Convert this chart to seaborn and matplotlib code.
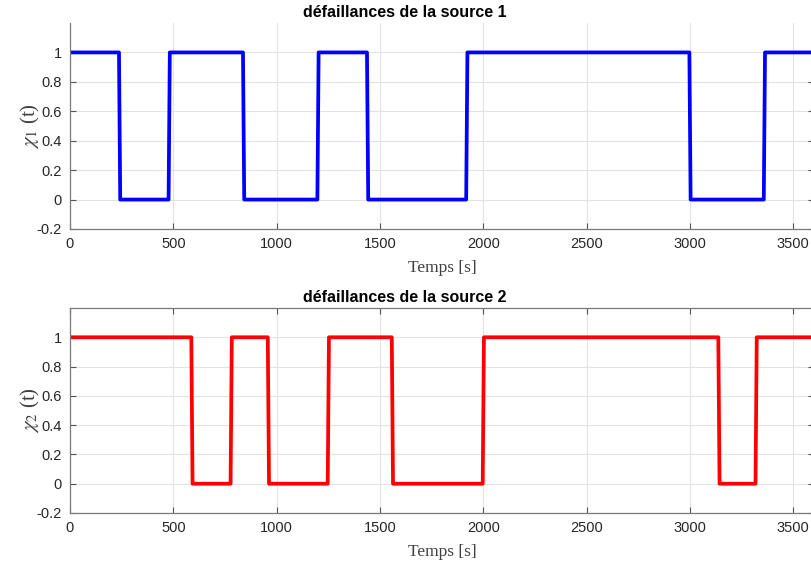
import numpy as np
import pandas as pd
import matplotlib
matplotlib.use("Agg")
import matplotlib.pyplot as plt
import seaborn as sns

# ---- data ----
switch_times_1 = [240, 480, 840, 1200, 1440, 1920, 3000, 3360]
switch_times_2 = [590, 780, 960, 1250, 1560, 2000, 3140, 3320]
initial_state = 1
t_end = 3600
titles = ["défaillances de la source 1", "défaillances de la source 2"]
ylabels = [r"$\chi_1$ (t)", r"$\chi_2$ (t)"]
xlabel = "Temps [s]"
xticks = [0, 500, 1000, 1500, 2000, 2500, 3000, 3500]
yticks = [-0.2, 0, 0.2, 0.4, 0.6, 0.8, 1]
ytick_labels = ["-0.2", "0", "0.2", "0.4", "0.6", "0.8", "1"]
colors = ["#0000ff", "#ff0000"]

RAMP = 3.0


def build(switches):
    t = [0.0]
    v = [initial_state]
    cur = initial_state
    for s in switches:
        t.append(s - RAMP); v.append(cur)
        cur = 1 - cur
        t.append(s + RAMP); v.append(cur)
    t.append(t_end); v.append(cur)
    return pd.DataFrame({"t": t, "x": v})


sns.set_theme(style="whitegrid")
plt.rcParams["font.family"] = ["Liberation Sans", "DejaVu Sans"]
plt.rcParams["mathtext.fontset"] = "stix"

fig = plt.figure(figsize=(8.11, 5.65), dpi=100)
W, H = 811.0, 565.0
ax_pos = [
    (70 / W, 1 - 229 / H, (814 - 70) / W, (229 - 23) / H),
    (70 / W, 1 - 513 / H, (814 - 70) / W, (513 - 308) / H),
]

for i, (sw, col) in enumerate([(switch_times_1, colors[0]), (switch_times_2, colors[1])]):
    ax = fig.add_axes(ax_pos[i])
    df = build(sw)
    sns.lineplot(data=df, x="t", y="x", ax=ax, color=col, linewidth=2.7,
                 estimator=None, sort=False)
    ax.set_xlim(0, t_end)
    ax.set_ylim(-0.2, 1.2)
    ax.set_xticks(xticks)
    ax.set_xticklabels([str(v) for v in xticks])
    ax.set_yticks(yticks)
    ax.set_yticklabels(ytick_labels)
    ax.grid(True, color="#e3e3e3", linewidth=0.8)
    ax.set_facecolor("white")
    for name, sp in ax.spines.items():
        sp.set_color("#7a7a7a")
        sp.set_linewidth(0.9)
    if i == 0:
        ax.spines["top"].set_visible(False)
    ax.tick_params(axis="both", direction="in", length=4, width=0.8, color="#555555",
                   labelsize=10.5, labelcolor="#262626", bottom=True, left=True,
                   right=True, top=(i == 1))
    ax.tick_params(axis="x", pad=6)
    ax.tick_params(axis="y", pad=6)
    ax.set_xlabel(xlabel, fontsize=12.5, family=["Liberation Serif"], color="#404040",
                  labelpad=6)
    ax.set_ylabel(ylabels[i], fontsize=15, family=["Liberation Serif"], color="#404040",
                  labelpad=-4)
    ax.set_title(titles[i], fontsize=11.5, fontweight="bold", color="black", x=0.45, pad=4)

fig.savefig("out.png", dpi=100)
